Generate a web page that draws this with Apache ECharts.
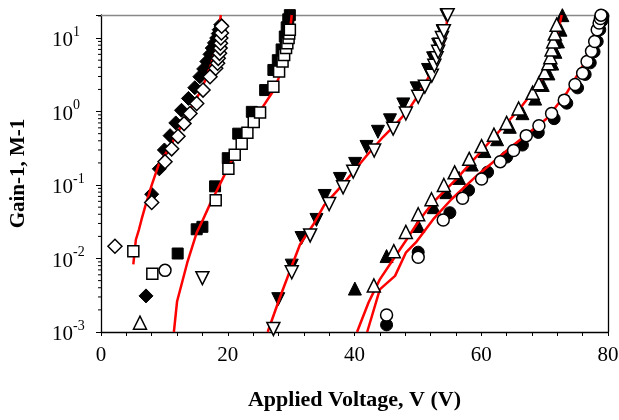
<!DOCTYPE html>
<html><head><meta charset="utf-8">
<script src="https://cdn.jsdelivr.net/npm/echarts@6/dist/echarts.min.js"></script>
<style>html,body{margin:0;padding:0;background:#fff}#c{width:619px;height:420px}</style>
</head><body><div id="c"></div>
<script>
// ---- data (Applied voltage V, Gain-1) ----
const fdiaV = [7.1, 8.0, 9.2, 10.0, 10.9, 11.8, 12.7, 13.8, 14.8, 15.6, 16.2, 16.7, 17.2, 17.55, 17.9, 18.25, 18.5, 18.65, 18.9];
const fdiaY = [0.0031, 0.075, 0.166, 0.30, 0.47, 0.70, 1.04, 1.51, 2.11, 2.98, 3.8, 4.8, 6.0, 7.3, 8.6, 10, 11.5, 13, 15.2];
const odiaV = [2.2, 8.0, 10.1, 11.15, 12.15, 13.1, 14.04, 15.1, 16.1, 17.2, 18.1, 18.4, 18.5, 18.7, 18.8, 18.85, 18.9, 19.0, 19.04];
const odiaY = [0.0147, 0.058, 0.208, 0.311, 0.46, 0.685, 0.94, 1.29, 1.96, 2.98, 3.88, 4.55, 5.3, 6.2, 7.3, 8.5, 10, 11.7, 14.5];
const fsqV = [12.1, 15.1, 16.0, 18.0, 20.0, 21.65, 23.8, 25.9, 27.2, 27.9, 28.5, 29.0, 29.3, 29.55, 29.8];
const fsqY = [0.0117, 0.025, 0.027, 0.096, 0.232, 0.50, 0.99, 1.96, 3.68, 5.0, 7.0, 10.5, 14, 18, 20.5];
const osqV = [5.1, 8.1, 18.1, 20.1, 21.1, 22.2, 23.1, 24.1, 25.1, 27.2, 28.1, 28.65, 28.9, 29.2, 29.4, 29.6, 29.7, 29.8];
const osqY = [0.0126, 0.0062, 0.062, 0.166, 0.258, 0.365, 0.515, 0.72, 0.97, 2.18, 3.5, 4.8, 5.9, 7.3, 8.5, 10, 11.5, 13];
const fdtV = [27.97, 30.1, 31.65, 34.0, 35.3, 37.7, 40.1, 41.9, 43.7, 45.6, 47.7, 49.8, 51.6, 52.4, 53.2, 53.9, 54.5];
const fdtY = [0.0028, 0.008, 0.019, 0.0335, 0.071, 0.121, 0.194, 0.33, 0.53, 0.76, 1.25, 2.07, 3.68, 5.3, 8.1, 12.4, 20.5];
const odtV = [16.0, 27.2, 30.1, 33.0, 36.0, 38.2, 39.8, 43.1, 46.1, 48.1, 50.05, 51.1, 52.2, 52.6, 52.95, 53.2, 53.5, 53.8, 54.1, 54.7];
const odtY = [0.0054, 0.0011, 0.0065, 0.0206, 0.055, 0.093, 0.152, 0.295, 0.585, 0.94, 1.59, 2.18, 3.08, 4.2, 5.3, 6.5, 8.1, 10, 12.4, 20.5];
const futV = [40.06, 45.06, 50.05, 52.5, 54.5, 56.5, 58.5, 60.5, 62.5, 64.5, 66.5, 68.5, 69.7, 70.6, 71.2, 71.7, 72.1, 72.5, 72.8];
const futY = [0.0039, 0.0108, 0.0277, 0.05, 0.08, 0.125, 0.19, 0.29, 0.42, 0.62, 0.95, 1.5, 2.3, 3.3, 4.5, 6.5, 9, 13, 20.5];
const outV = [6.15, 43.05, 46.2, 48.1, 50.05, 52.15, 54.1, 55.8, 58.1, 60.05, 62.0, 64.0, 65.9, 68.1, 69.1, 70.0, 70.6, 70.9, 71.1, 71.35, 71.6, 71.9];
const outY = [0.00134, 0.0043, 0.0126, 0.023, 0.040, 0.064, 0.1, 0.149, 0.227, 0.339, 0.484, 0.70, 1.10, 1.80, 2.42, 3.42, 4.55, 5.5, 7.0, 9.0, 11.5, 15.2];
const fciV = [45.06, 50.05, 55.05, 58, 61, 64, 66.5, 69, 71.5, 73.5, 75.2, 76.4, 77.2, 77.8, 78.3, 78.7, 79.0, 79.2];
const fciY = [0.00125, 0.0122, 0.042, 0.085, 0.15, 0.24, 0.35, 0.52, 0.8, 1.3, 2.1, 3.2, 4.6, 6.5, 9, 13, 17, 20];
const ociV = [10.1, 45.06, 50.05, 54.0, 57.05, 60.05, 63.0, 65.1, 67.1, 69.1, 71.1, 73.1, 74.8, 76.0, 76.7, 77.4, 77.9, 78.3, 78.6, 78.8, 78.9];
const ociY = [0.0069, 0.0017, 0.0104, 0.0335, 0.066, 0.121, 0.208, 0.295, 0.47, 0.64, 0.94, 1.43, 2.34, 3.32, 4.8, 6.6, 9.0, 13, 16, 18.5, 20.5];
// model fit curves (red)
const L1V = [5.1, 5.5, 6.0, 6.4, 7.0, 8.0, 9.2, 10.9, 12.5, 14.0, 15.5, 16.4, 17.3, 18.0, 18.5, 18.9];
const L1Y = [0.0083, 0.018, 0.025, 0.034, 0.052, 0.10, 0.2, 0.33, 0.6, 1.05, 1.75, 2.6, 4.2, 6.5, 10, 20.6];
const L2V = [11.5, 12.0, 13.6, 15.1, 16.1, 17.2, 18.3, 19.3, 21.0, 22.5, 24.0, 25.5, 27.0, 28.0, 28.8, 29.4, 29.8, 30.1];
const L2Y = [0.001, 0.0026, 0.0087, 0.0225, 0.034, 0.055, 0.085, 0.127, 0.25, 0.42, 0.72, 1.15, 1.8, 2.8, 4.5, 7.5, 12, 20.6];
const L3V = [26.3, 28.2, 30.1, 31.4, 33.5, 35.2, 38.2, 41.9, 44.5, 46.6, 48.5, 50.05, 52.2, 53.5, 54.3, 54.7];
const L3Y = [0.001, 0.0029, 0.0079, 0.0155, 0.029, 0.053, 0.103, 0.25, 0.45, 0.685, 1.05, 1.67, 3.48, 6, 10, 20.6];
const L4V = [40.4, 42.2, 44.0, 46.1, 48.2, 50.3, 52.4, 56.1, 60.8, 66.1, 69.2, 71.3, 72.7];
const L4Y = [0.001, 0.0025, 0.0052, 0.0097, 0.018, 0.034, 0.058, 0.121, 0.345, 1.10, 2.42, 5.9, 20.6];
const L5V = [42.0, 44.0, 46.4, 48.1, 49.8, 52.4, 55.3, 59.3, 65.0, 70.3, 73.45, 76.1, 77.65, 78.7];
const L5Y = [0.001, 0.0038, 0.0058, 0.012, 0.017, 0.034, 0.064, 0.134, 0.345, 0.80, 1.77, 4.3, 10, 20.6];
// axis ticks
const xTicks = [0, 20, 40, 60, 80];
const yMinorTicks = [0.002,0.003,0.004,0.005,0.006,0.007,0.008,0.009,
  0.02,0.03,0.04,0.05,0.06,0.07,0.08,0.09,
  0.2,0.3,0.4,0.5,0.6,0.7,0.8,0.9,
  2,3,4,5,6,7,8,9,20];

const zip = (a, b) => a.map((v, i) => [v, b[i]]);
const FONT = 'Liberation Serif';
const filled = (name, V, Y, sym, size, rot) => ({
  name, type: 'scatter', data: zip(V, Y), symbol: sym, symbolSize: size, symbolRotate: rot || 0,
  itemStyle: { color: '#000', borderColor: '#000', borderWidth: 1, opacity: 1 }, z: 2
});
const open = (name, V, Y, sym, size, rot) => ({
  name, type: 'scatter', data: zip(V, Y), symbol: sym, symbolSize: size, symbolRotate: rot || 0,
  itemStyle: { color: '#fff', borderColor: '#000', borderWidth: 1.5, opacity: 1 }, z: 4
});
const fit = (name, V, Y) => ({
  name, type: 'line', data: zip(V, Y), showSymbol: false, symbol: 'none',
  lineStyle: { color: '#ff0000', width: 2.5, opacity: 1 }, z: 3
});

const chart = echarts.init(document.getElementById('c'), null, { renderer: 'canvas' });
chart.setOption({
  animation: false,
  backgroundColor: '#fff',
  grid: { left: 101, right: 11, top: 15, bottom: 88, containLabel: false, outerBoundsMode: 'none' },
  xAxis: [{
    type: 'value', min: xTicks[0], max: xTicks[xTicks.length - 1], interval: 20,
    axisLine: { show: true, onZero: false, lineStyle: { color: '#000', width: 1.3 } },
    axisTick: { show: true, inside: false, length: 4, lineStyle: { color: '#000' } },
    minorTick: { show: true, splitNumber: 5, length: 4, lineStyle: { color: '#000' } },
    splitLine: { show: false },
    axisLabel: { fontFamily: FONT, fontSize: 21, color: '#000', margin: 13 },
    name: 'Applied Voltage, V (V)', nameLocation: 'middle', nameGap: 57,
    nameTextStyle: { fontFamily: FONT, fontSize: 22, fontWeight: 'bold', color: '#000' }
  }, {
    type: 'value', position: 'top', min: 0, max: 80,
    axisLine: { show: true, onZero: false, lineStyle: { color: '#888', width: 1.3 } },
    axisTick: { show: false }, axisLabel: { show: false }, splitLine: { show: false }
  }],
  yAxis: [{
    type: 'log', logBase: 10, min: 0.001, max: 20.6, position: 'left',
    axisLine: { show: true, onZero: false, lineStyle: { color: '#000', width: 1.3 } },
    axisTick: { show: true, inside: false, length: 5, lineStyle: { color: '#000' } },
    splitLine: { show: false },
    axisLabel: {
      align: 'left', margin: 49, color: '#000',
      formatter: function (v) {
        const l = Math.log10(v), e = Math.round(l);
        if (Math.abs(l - e) > 1e-6) return '';
        return '{b|10}{s|' + e + '}';
      },
      rich: {
        b: { fontFamily: FONT, fontSize: 21, color: '#000', lineHeight: 26, verticalAlign: 'bottom' },
        s: { fontFamily: FONT, fontSize: 14, color: '#000', lineHeight: 26, verticalAlign: 'top' }
      }
    },
    name: 'Gain-1, M-1', nameLocation: 'middle', nameGap: 72,
    nameTextStyle: { fontFamily: FONT, fontSize: 21, fontWeight: 'bold', color: '#000' }
  }, {
    type: 'value', position: 'right', min: 0, max: 1,
    axisLine: { show: true, onZero: false, lineStyle: { color: '#000', width: 1.3 } },
    axisTick: { show: false }, axisLabel: { show: false }, splitLine: { show: false }
  }],
  series: [
    filled('fdia', fdiaV, fdiaY, 'diamond', 14),
    filled('fsq', fsqV, fsqY, 'rect', 11),
    filled('fdt', fdtV, fdtY, 'triangle', 13, 180),
    filled('fut', futV, futY, 'triangle', 13),
    filled('fci', fciV, fciY, 'circle', 12),
    fit('L1', L1V, L1Y), fit('L2', L2V, L2Y), fit('L3', L3V, L3Y), fit('L4', L4V, L4Y), fit('L5', L5V, L5Y),
    open('odia', odiaV, odiaY, 'diamond', 14),
    open('osq', osqV, osqY, 'rect', 11),
    open('odt', odtV, odtY, 'triangle', 13, 180),
    open('out', outV, outY, 'triangle', 13),
    open('oci', ociV, ociY, 'circle', 12),
    {
      name: 'yminor', type: 'custom', clip: false, silent: true, z: 5,
      data: yMinorTicks.map(v => [0, v]),
      renderItem: function (params, api) {
        const p = api.coord([api.value(0), api.value(1)]);
        return { type: 'line', shape: { x1: p[0] - 3, y1: p[1], x2: p[0], y2: p[1] }, style: { stroke: '#000', lineWidth: 1 } };
      }
    }
  ]
});
</script></body></html>
